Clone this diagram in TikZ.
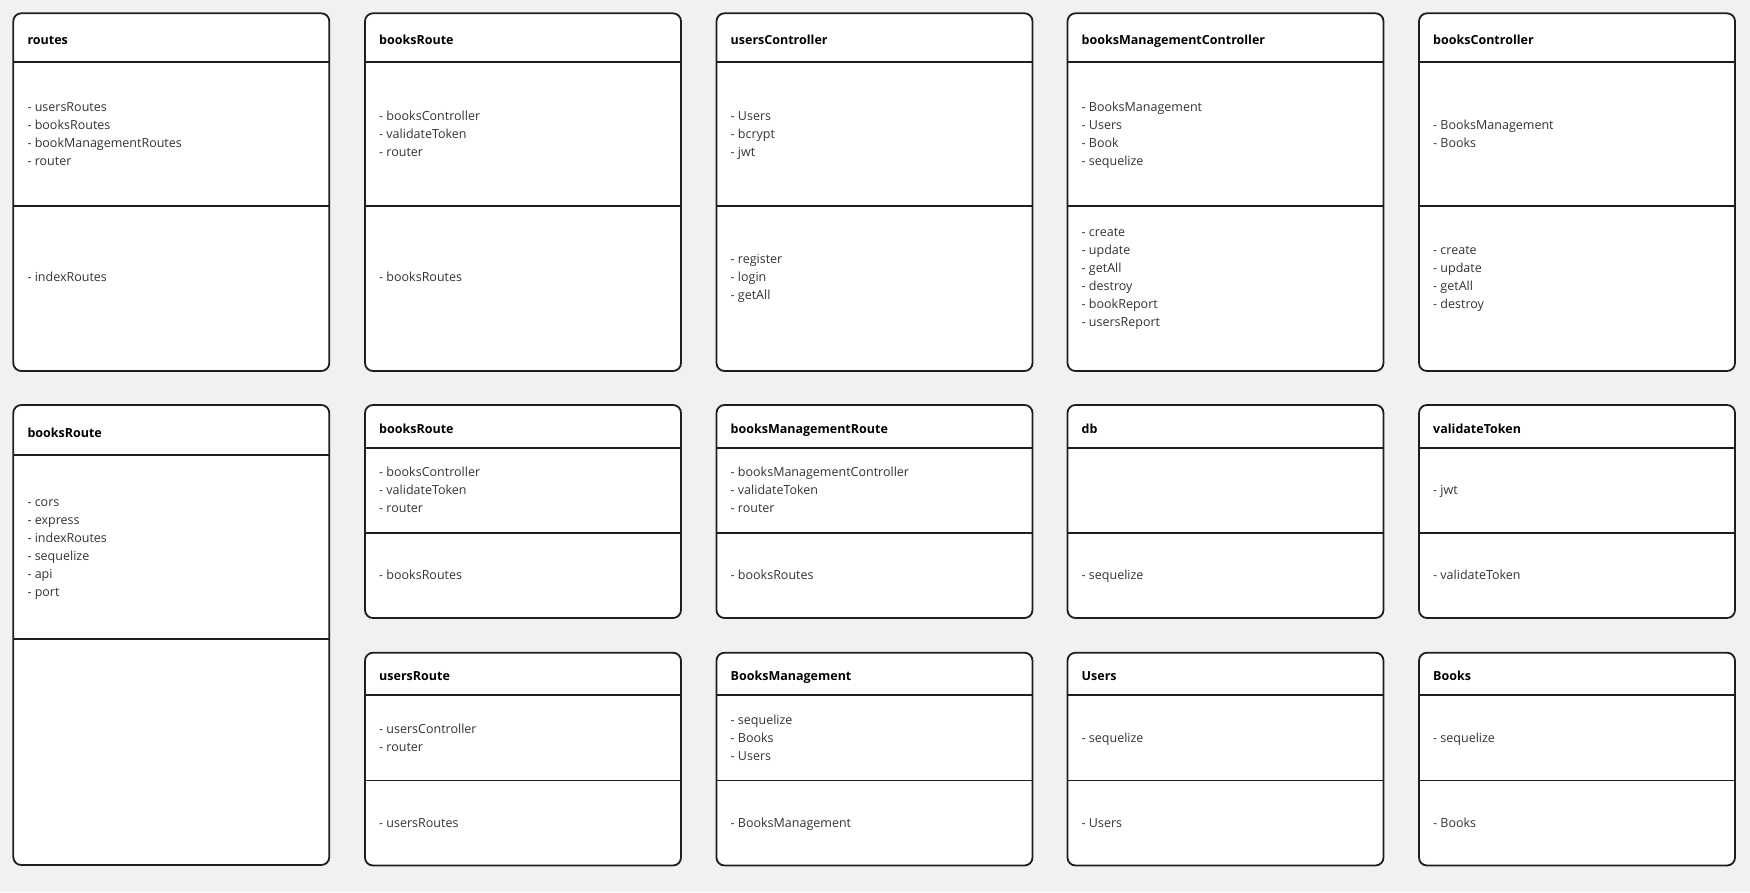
\documentclass[tikz,border=0pt]{standalone}
\usepackage{fontspec}
\setmainfont{Open Sans}
\usepackage{xcolor}
\usepackage{tikz}
\usetikzlibrary{positioning,calc}

\definecolor{pagebg}{HTML}{F1F1F1}
\definecolor{edgecol}{HTML}{1E1E1E}
\definecolor{textcol}{HTML}{333333}

% frame of one class: name, left x, top, header line, divider, bottom
\newcommand{\classframe}[6]{%
  \draw[frame, fill=white, rounded corners=8pt] (#2,#3) rectangle (#2+316,#6);
  \draw[frame] (#2,#4) -- (#2+316,#4);
  \draw[frame] (#2,#5) -- (#2+316,#5);
  \coordinate (#1-h) at (#2+14,{(#3+#4)/2});
  \coordinate (#1-a) at (#2+14,{(#4+#5)/2});
  \coordinate (#1-m) at (#2+14,{(#5+#6)/2});
}

\begin{document}
\begin{tikzpicture}[
    x=1pt, y=-1pt,
    frame/.style={draw=edgecol, line width=1.8pt},
    title/.style={anchor=base west, yshift=-7pt, inner sep=0pt, text=black, font=\fontsize{12.5}{18}\selectfont\bfseries},
    members/.style={anchor=base west, yshift={-(9*(#1-1)+4.3)*1pt}, inner sep=0pt, align=left, text=textcol, font=\fontsize{12.5}{18}\selectfont},
    members/.default=1
]
    \fill[pagebg] (0,0) rectangle (1750,892);
    \useasboundingbox (0,0) rectangle (1750,892);

    % first row
    \classframe{routes}{13.3}{13.3}{62.3}{205.7}{371}
    \classframe{booksRouteA}{365}{13.3}{62.3}{205.7}{371}
    \classframe{usersCtrl}{716.5}{13.3}{62.3}{205.7}{371}
    \classframe{bmCtrl}{1067.5}{13.3}{62.3}{205.7}{371}
    \classframe{booksCtrl}{1419}{13.3}{62.3}{205.7}{371}

    \node[title] (routes-title) at (routes-h) {routes};
    \node[members=4] (routes-attr) at (routes-a) {- usersRoutes\\- booksRoutes\\- bookManagementRoutes\\- router};
    \node[members] (routes-meth) at ([yshift=11pt]routes-m) {- indexRoutes};

    \node[title] (booksRouteA-title) at (booksRouteA-h) {booksRoute};
    \node[members=3] (booksRouteA-attr) at (booksRouteA-a) {- booksController\\- validateToken\\- router};
    \node[members] (booksRouteA-meth) at ([yshift=11pt]booksRouteA-m) {- booksRoutes};

    \node[title] (usersCtrl-title) at (usersCtrl-h) {usersController};
    \node[members=3] (usersCtrl-attr) at (usersCtrl-a) {- Users\\- bcrypt\\- jwt};
    \node[members=3] (usersCtrl-meth) at ([yshift=11pt]usersCtrl-m) {- register\\- login\\- getAll};

    \node[title] (bmCtrl-title) at (bmCtrl-h) {booksManagementController};
    \node[members=4] (bmCtrl-attr) at (bmCtrl-a) {- BooksManagement\\- Users\\- Book\\- sequelize};
    \node[members=6] (bmCtrl-meth) at ([yshift=11pt]bmCtrl-m) {- create\\- update\\- getAll\\- destroy\\- bookReport\\- usersReport};

    \node[title] (booksCtrl-title) at (booksCtrl-h) {booksController};
    \node[members=2] (booksCtrl-attr) at (booksCtrl-a) {- BooksManagement\\- Books};
    \node[members=4] (booksCtrl-meth) at ([yshift=11pt]booksCtrl-m) {- create\\- update\\- getAll\\- destroy};

    % tall class on the left
    \classframe{index}{13.3}{405}{455}{638.7}{865}
    \node[title] (index-title) at (index-h) {booksRoute};
    \node[members=6] (index-attr) at (index-a) {- cors\\- express\\- indexRoutes\\- sequelize\\- api\\- port};

    % second row
    \classframe{booksRouteB}{365}{405}{447.7}{533}{618}
    \classframe{bmRoute}{716.5}{405}{447.7}{533}{618}
    \classframe{db}{1067.5}{405}{447.7}{533}{618}
    \classframe{validate}{1419}{405}{447.7}{533}{618}

    \node[title] (booksRouteB-title) at (booksRouteB-h) {booksRoute};
    \node[members=3] (booksRouteB-attr) at (booksRouteB-a) {- booksController\\- validateToken\\- router};
    \node[members] (booksRouteB-meth) at (booksRouteB-m) {- booksRoutes};

    \node[title] (bmRoute-title) at (bmRoute-h) {booksManagementRoute};
    \node[members=3] (bmRoute-attr) at (bmRoute-a) {- booksManagementController\\- validateToken\\- router};
    \node[members] (bmRoute-meth) at (bmRoute-m) {- booksRoutes};

    \node[title] (db-title) at (db-h) {db};
    \node[members] (db-meth) at (db-m) {- sequelize};

    \node[title] (validate-title) at (validate-h) {validateToken};
    \node[members] (validate-attr) at (validate-a) {- jwt};
    \node[members] (validate-meth) at (validate-m) {- validateToken};

    % third row
    \classframe{usersRoute}{365}{652.7}{695}{780.5}{865.5}
    \classframe{bmModel}{716.5}{652.7}{695}{780.5}{865.5}
    \classframe{usersModel}{1067.5}{652.7}{695}{780.5}{865.5}
    \classframe{booksModel}{1419}{652.7}{695}{780.5}{865.5}

    \node[title] (usersRoute-title) at (usersRoute-h) {usersRoute};
    \node[members=2] (usersRoute-attr) at (usersRoute-a) {- usersController\\- router};
    \node[members] (usersRoute-meth) at (usersRoute-m) {- usersRoutes};

    \node[title] (bmModel-title) at (bmModel-h) {BooksManagement};
    \node[members=3] (bmModel-attr) at (bmModel-a) {- sequelize\\- Books\\- Users};
    \node[members] (bmModel-meth) at (bmModel-m) {- BooksManagement};

    \node[title] (usersModel-title) at (usersModel-h) {Users};
    \node[members] (usersModel-attr) at (usersModel-a) {- sequelize};
    \node[members] (usersModel-meth) at (usersModel-m) {- Users};

    \node[title] (booksModel-title) at (booksModel-h) {Books};
    \node[members] (booksModel-attr) at (booksModel-a) {- sequelize};
    \node[members] (booksModel-meth) at (booksModel-m) {- Books};
\end{tikzpicture}
\end{document}
